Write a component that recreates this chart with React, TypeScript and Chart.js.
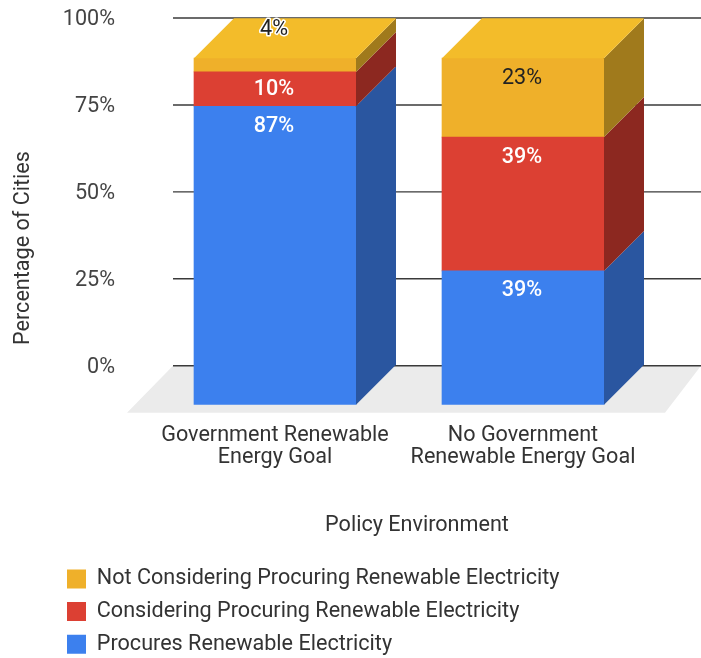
import React, { useEffect, useRef } from "react";
import { Chart, registerables } from "chart.js";

Chart.register(...registerables);

const categories = [
  ["Government Renewable", "Energy Goal"],
  ["No Government", "Renewable Energy Goal"],
];
const procures = [87, 39];
const considering = [10, 39];
const notConsidering = [4, 23];
const percentTicks = [0, 25, 50, 75, 100];

// Extra lift for the thin segments, whose labels sit higher than the rest.
const consideringLift = [2, 0];
const notConsideringLift = [49, 0];

const FONT = "Roboto, 'Liberation Sans', sans-serif";
const FONT_SIZE = 21.6;
const DEPTH = 40;

const faces = [
  { front: "#3C80EE", side: "#2A56A0", top: "#3C80EE", text: "#FFFFFF", weight: "500", lift: [0, 0] },
  { front: "#DC4033", side: "#8C2820", top: "#DC4033", text: "#FFFFFF", weight: "500", lift: consideringLift },
  { front: "#EFB02A", side: "#A07A1C", top: "#F3BC2A", text: "#222222", weight: "400", lift: notConsideringLift },
];

const scenery = {
  id: "scenery",
  beforeDatasetsDraw(chart: any) {
    const { ctx, scales } = chart;
    const y = scales.y;
    const floorBack = y.getPixelForValue(0);
    ctx.save();
    ctx.fillStyle = "#EBEBEB";
    ctx.beginPath();
    ctx.moveTo(173, floorBack);
    ctx.lineTo(701, floorBack);
    ctx.lineTo(665, floorBack + 47);
    ctx.lineTo(127, floorBack + 47);
    ctx.closePath();
    ctx.fill();
    ctx.strokeStyle = "#3A3A3A";
    ctx.lineWidth = 1.4;
    percentTicks.forEach((t) => {
      const py = y.getPixelForValue(t);
      ctx.beginPath();
      ctx.moveTo(173, py);
      ctx.lineTo(701, py);
      ctx.stroke();
    });
    ctx.restore();
  },
  afterDatasetsDraw(chart: any) {
    const { ctx, data } = chart;
    ctx.save();
    const last = data.datasets.length - 1;
    data.datasets.forEach((_: any, di: number) => {
      const face = faces[di];
      chart.getDatasetMeta(di).data.forEach((bar: any) => {
        const right = bar.x + bar.width / 2;
        const left = bar.x - bar.width / 2;
        ctx.fillStyle = face.side;
        ctx.beginPath();
        ctx.moveTo(right, bar.y);
        ctx.lineTo(right + DEPTH, bar.y - DEPTH);
        ctx.lineTo(right + DEPTH, bar.base - DEPTH);
        ctx.lineTo(right, bar.base);
        ctx.closePath();
        ctx.fill();
        if (di === last) {
          ctx.fillStyle = face.top;
          ctx.beginPath();
          ctx.moveTo(left, bar.y);
          ctx.lineTo(left + DEPTH, bar.y - DEPTH);
          ctx.lineTo(right + DEPTH, bar.y - DEPTH);
          ctx.lineTo(right, bar.y);
          ctx.closePath();
          ctx.fill();
        }
      });
    });
    // Value labels near the top of each front face.
    ctx.textAlign = "center";
    ctx.textBaseline = "middle";
    data.datasets.forEach((ds: any, di: number) => {
      const face = faces[di];
      chart.getDatasetMeta(di).data.forEach((bar: any, i: number) => {
        const text = `${ds.data[i]}%`;
        const ty = bar.y + 20 - face.lift[i];
        ctx.font = `${face.weight} ${FONT_SIZE}px ${FONT}`;
        // Only the label lifted onto the top face and the gridline needs a halo.
        if (face.lift[i] > 10) {
          ctx.lineJoin = "round";
          ctx.lineWidth = 3;
          ctx.strokeStyle = "#FFFFFF";
          ctx.strokeText(text, bar.x - 1, ty);
        }
        ctx.fillStyle = face.text;
        ctx.fillText(text, bar.x - 1, ty);
      });
    });
    // Axis titles.
    ctx.fillStyle = "#333333";
    ctx.font = `400 ${FONT_SIZE}px ${FONT}`;
    ctx.fillText("Policy Environment", 417, 526);
    ctx.translate(24, 248);
    ctx.rotate(-Math.PI / 2);
    ctx.fillText("Percentage of Cities", 0, 0);
    ctx.restore();
  },
};

export default function App() {
  const ref = useRef<HTMLCanvasElement>(null);

  useEffect(() => {
    const chart = new Chart(ref.current as HTMLCanvasElement, {
      type: "bar",
      data: {
        labels: categories as any,
        datasets: [
          { label: "Procures Renewable Electricity", data: procures, backgroundColor: faces[0].front, yAxisID: "front" },
          { label: "Considering Procuring Renewable Electricity", data: considering, backgroundColor: faces[1].front, yAxisID: "front" },
          { label: "Not Considering Procuring Renewable Electricity", data: notConsidering, backgroundColor: faces[2].front, yAxisID: "front" },
        ],
      },
      options: {
        responsive: false,
        animation: false,
        layout: { padding: { left: 56, right: 54, top: 18, bottom: -7 } },
        datasets: { bar: { barThickness: 162 } },
        plugins: {
          tooltip: { enabled: false },
          legend: {
            position: "bottom",
            align: "start",
            reverse: true,
            labels: {
              boxWidth: 19,
              boxHeight: 19,
              padding: 11,
              color: "#333333",
              font: { family: FONT, size: FONT_SIZE },
            },
          },
        },
        scales: {
          x: {
            stacked: true,
            border: { display: false },
            grid: { display: false },
            afterFit(scale: any) {
              scale.height = 152.4;
            },
            ticks: {
              autoSkip: false,
              maxRotation: 0,
              padding: 12,
              color: "#333333",
              font: { family: FONT, size: FONT_SIZE, lineHeight: 1 },
            },
          },
          // The axis that carries the tick labels sits on the back wall.
          y: {
            min: -11.24,
            max: 100,
            border: { display: false },
            grid: { display: false },
            afterBuildTicks(scale: any) {
              scale.ticks = percentTicks.map((value) => ({ value }));
            },
            afterFit(scale: any) {
              scale.width = 95;
              scale.paddingTop = 0;
              scale.paddingBottom = 0;
            },
            ticks: {
              padding: 28,
              labelOffset: 2,
              color: "#444444",
              font: { family: FONT, size: FONT_SIZE },
              callback: (v: any) => `${v}%`,
            },
          },
          // Bars are measured on the front plane, which is shifted toward the viewer.
          front: {
            display: false,
            stacked: true,
            min: 0,
            max: 112.7,
          },
        },
      } as any,
      plugins: [scenery],
    });
    return () => chart.destroy();
  }, []);

  return (
    <div style={{ position: "absolute", left: 0, top: 0, width: 701, height: 658 }}>
      <canvas ref={ref} width={701} height={658} style={{ display: "block" }} />
    </div>
  );
}
